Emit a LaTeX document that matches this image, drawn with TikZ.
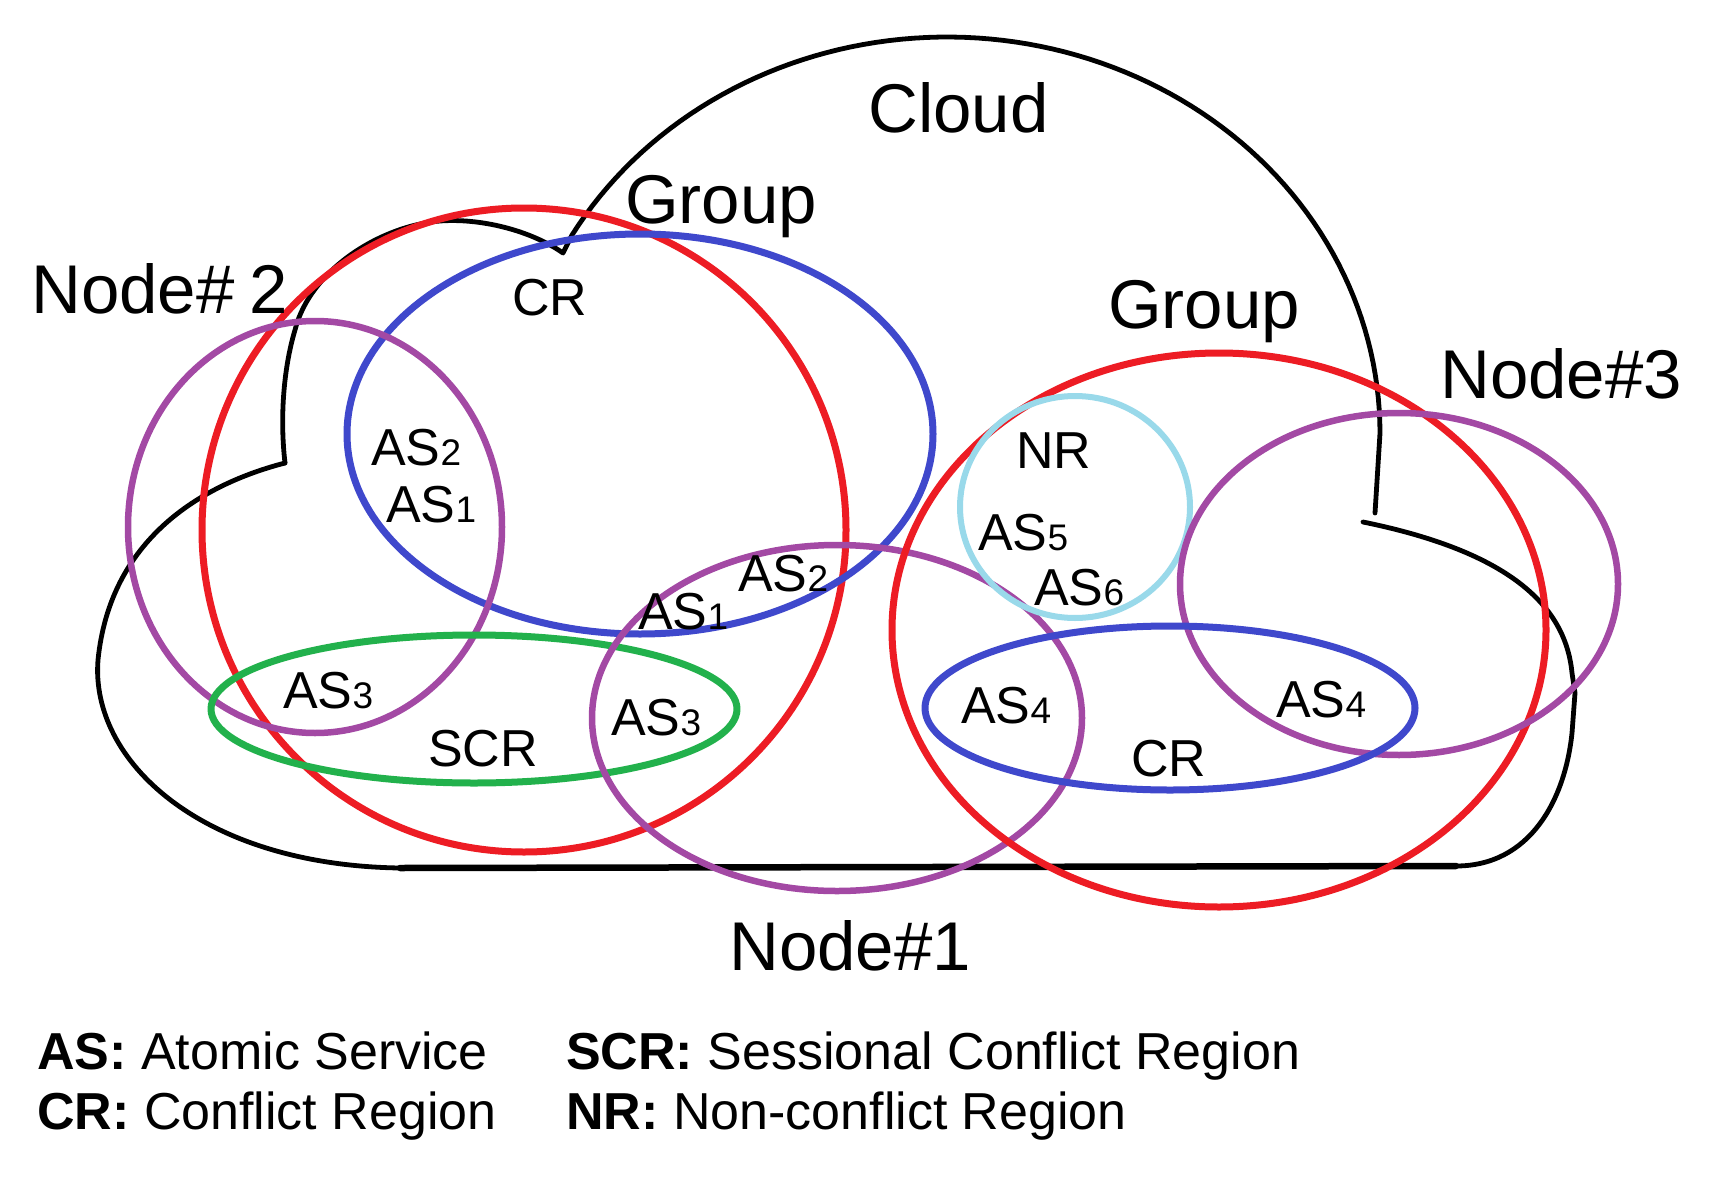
\documentclass[tikz,border=0pt]{standalone}
\usepackage{fontspec}
\setmainfont{Liberation Sans}
\definecolor{pred}{RGB}{237,28,36}
\definecolor{pblue}{RGB}{63,72,204}
\definecolor{ppurple}{RGB}{163,73,164}
\definecolor{pgreen}{RGB}{34,177,76}
\definecolor{plblue}{RGB}{153,217,234}
\newcommand\mysub[1]{{\fontsize{37}{37}\selectfont #1}}
\tikzset{
  cloudline/.style={draw=black, line width=4.8},
  redl/.style={draw=pred, line width=7},
  bluel/.style={draw=pblue, line width=7},
  purl/.style={draw=ppurple, line width=6.5},
  greenl/.style={draw=pgreen, line width=7},
  lbluel/.style={draw=plblue, line width=6},
  big/.style={anchor=base west, inner sep=0pt, font=\fontsize{69}{80}\selectfont},
  lbl/.style={anchor=base west, inner sep=0pt, font=\fontsize{52}{60}\selectfont},
  leg/.style={anchor=base west, inner sep=0pt, font=\fontsize{52}{60}\selectfont},
}
\begin{document}
\begin{tikzpicture}[x=1pt,y=-1pt,line join=round,line cap=round]
\fill[white] (0,0) rectangle (1716,1180);
\useasboundingbox (0,0) rectangle (1716,1180);
% cloud outline
\draw[cloudline] (285,463) .. controls (200,485) and (110,540) .. (98,660)
  .. controls (90,760) and (200,865) .. (400,868) -- (1456,866)
  .. controls (1530,866) and (1565,800) .. (1572,733) -- (1575,693) -- (1572,673)
  .. controls (1565,600) and (1500,550) .. (1363,522);
\draw[cloudline] (1375,513) -- (1380,433)
  -- plot[domain=0:150,samples=90] ({947+433*cos(\x)},{433-396*sin(\x)})
  -- (563,253) .. controls (530,230) and (480,218) .. (440,221)
  .. controls (380,226) and (310,270) .. (295,330)
  .. controls (283,370) and (280,420) .. (285,463);
\draw[black, line width=6.5] (400,868) -- (1456,866);
% ellipses
\draw[redl] (524,530) ellipse [x radius=322, y radius=322];
\draw[bluel] (640,434) ellipse [x radius=293, y radius=200];
\draw[purl] (315,527) ellipse [x radius=187, y radius=206];
\draw[greenl] (474,709) ellipse [x radius=263, y radius=74];
\draw[purl] (837,718) ellipse [x radius=245, y radius=173];
\draw[redl] (1219,630) ellipse [x radius=327, y radius=277];
\draw[lbluel] (1075,507) ellipse [x radius=115, y radius=111];
\draw[purl] (1399,584) ellipse [x radius=219, y radius=171];
\draw[bluel] (1170,708) ellipse [x radius=245, y radius=82];
% big labels
\node[big] (cloud) at (868,132) {Cloud};
\node[big] (group1) at (625,223) {Group};
\node[big] (group2) at (1108,328) {Group};
\node[big] (node2) at (31,313) {Node\#\,\kern0.05em 2};
\node[big] (node3) at (1440,398) {Node\#3};
\node[big] (node1) at (729,970) {Node\#1};
% small labels
\node[lbl] (cr1) at (512,315) {CR};
\node[lbl] (as2a) at (371,465) {AS\mysub{2}};
\node[lbl] (as1a) at (386,522) {AS\mysub{1}};
\node[lbl] (as2b) at (738,591) {AS\mysub{2}};
\node[lbl] (as1b) at (638,629) {AS\mysub{1}};
\node[lbl] (nr) at (1016,468) {NR};
\node[lbl] (as5) at (978,550) {AS\mysub{5}};
\node[lbl] (as6) at (1034,605) {AS\mysub{6}};
\node[lbl] (as3a) at (283,708) {AS\mysub{3}};
\node[lbl] (scr) at (428,766) {SCR};
\node[lbl] (as3b) at (611,735) {AS\mysub{3}};
\node[lbl] (as4a) at (961,723) {AS\mysub{4}};
\node[lbl] (as4b) at (1276,717) {AS\mysub{4}};
\node[lbl] (cr2) at (1131,776) {CR};
% legend
\node[leg] (legas) at (37,1069) {\textbf{AS:} Atomic Service};
\node[leg] (legcr) at (37,1129) {\textbf{CR:} Conflict Region};
\node[leg] (legscr) at (566,1069) {\textbf{SCR:} Sessional Conflict Region};
\node[leg] (legnr) at (566,1129) {\textbf{NR:} Non-conflict Region};
\end{tikzpicture}
\end{document}
